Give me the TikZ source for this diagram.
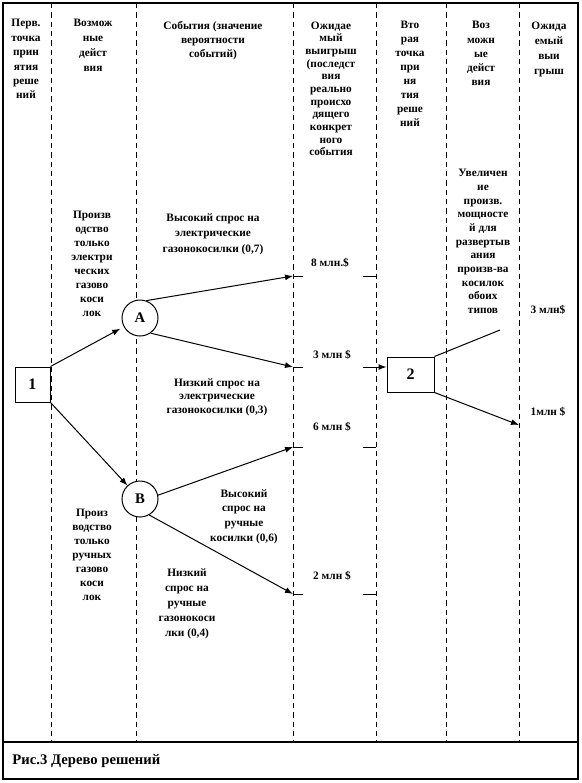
\documentclass[tikz,border=0pt]{standalone}
\usepackage{fontspec}
\setmainfont{Liberation Serif}
\usetikzlibrary{arrows.meta}

\tikzset{every picture/.style={line width=0.75pt}}
\tikzset{
  lbl/.style={font=\fontsize{8.5}{#1}\selectfont\bfseries, align=center, inner sep=0.75pt, anchor=north},
  lbl/.default=10.5,
  payoff/.style={font=\fontsize{8.5}{10.5}\selectfont\bfseries, inner sep=0.75pt},
  colsep/.style={dash pattern=on 4pt off 3pt, line width=0.6pt},
  choice/.style={draw, fill=white, minimum width=35.25pt, minimum height=26.25pt, inner sep=0pt, font=\fontsize{12}{14}\selectfont\bfseries},
  chance/.style={draw, fill=white, circle, minimum size=27pt, inner sep=0pt, font=\fontsize{11}{13}\selectfont\bfseries},
  arr/.style={-{Latex[length=6pt,width=4.5pt]}},
}

\begin{document}
\begin{tikzpicture}[x=0.75pt,y=0.75pt,yscale=-1,xscale=1]
\useasboundingbox (0,0) rectangle (582,783);

%Shape: Rectangle
\draw [line width=1pt] (3,3) rectangle (578,742) ;
%Shape: Rectangle
\draw [line width=1pt] (3,742) rectangle (578,779) ;

%Straight Lines
\draw [colsep] (51,3) -- (51,742) ;
\draw [colsep] (136,3) -- (136,742) ;
\draw [colsep] (293,3) -- (293,742) ;
\draw [colsep] (376,3) -- (376,742) ;
\draw [colsep] (446,3) -- (446,742) ;
\draw [colsep] (519,3) -- (519,742) ;

% Text Node
\node [lbl=10.8] (hd1) at (26,18) {Перв.\\точка\\прин\\ятия\\реше\\ний};
% Text Node
\node [lbl=11.25] (hd2) at (93,18) {Возмож\\ные\\дейст\\вия};
% Text Node
\node [lbl] (hd3) at (213,20) {События (значение\\вероятности\\событий)};
% Text Node
\node [lbl=9.5] (hd4) at (331,20) {Ожидае\\мый\\выигрыш\\(последст\\вия\\реально\\происхо\\дящего\\конкрет\\ного\\события};
% Text Node
\node [lbl] (hd5) at (410,20) {Вто\\рая\\точка\\при\\ня\\тия\\реше\\ний};
% Text Node
\node [lbl=10.65] (hd6) at (481,20) {Воз\\можн\\ые\\дейст\\вия};
% Text Node
\node [lbl=11.25] (hd7) at (549,20) {Ожида\\емый\\выи\\грыш};

%Shape: Square
\node [choice, minimum width=26.25pt] (d1) at (32.5,384.5) {1};
%Shape: Circle
\node [chance] (a) at (140,318) {А};
%Shape: Circle
\node [chance] (b) at (140,499) {В};
%Shape: Square
\node [choice] (d2) at (410.5,374.5) {2};

\coordinate (o8) at (293,276);
\coordinate (o8r) at (363,276);
\coordinate (o3) at (293,367);
\coordinate (o3r) at (363,367);
\coordinate (o6) at (293,447);
\coordinate (o6r) at (363,447);
\coordinate (o2) at (293,594);
\coordinate (o2r) at (363,594);
\coordinate (u3) at (500,330);
\coordinate (u1) at (519,425);

%Straight Lines
\draw [arr, shorten >=3pt] (d1.north east) -- (a) ;
\draw [arr] (d1.south east) -- (b) ;
\draw [arr] (a.70) -- (o8) ;
\draw [arr] (a.-55) -- (o3) ;
\draw [arr] (b.12) -- (o6) ;
\draw [arr] (b.-60) -- (o2) ;
\draw [arr] (o3r) -- (d2.west |- o3r) ;
\draw (d2.north east) -- (u3) ;
\draw [arr] (d2.south east) -- (u1) ;
% ticks
\draw (o8) -- ++(10,0) ;
\draw (o8r) -- ++(13,0) ;
\draw (o3) -- ++(10,0) ;
\draw (o6) -- ++(10,0) ;
\draw (o6r) -- ++(13,0) ;
\draw (o2) -- ++(10,0) ;
\draw (o2r) -- ++(13,0) ;

% Text Node
\node [lbl=10.5] (pa) at (92,210) {Произв\\одство\\только\\электри\\ческих\\газово\\коси\\лок};
% Text Node
\node [lbl=11.6] (ehi) at (213,212) {Высокий спрос на\\электрические\\газонокосилки (0,7)};
% Text Node
\node [lbl=10.1] (elo) at (217,377) {Низкий спрос на\\электрические\\газонокосилки (0,3)};
% Text Node
\node [lbl=10.5] (pb) at (92,508) {Произ\\водство\\только\\ручных\\газово\\коси\\лок};
% Text Node
\node [lbl=11] (hhi) at (244,488) {Высокий\\спрос на\\ручные\\косилки (0,6)};
% Text Node
\node [lbl=11.25] (hlo) at (187,567) {Низкий\\спрос на\\ручные\\газонокоси\\лки (0,4)};
% Text Node
\node [lbl=10.25] (ext) at (483,168) {Увеличен\\ие\\произв.\\мощносте\\й для\\развертыв\\ания\\произв-ва\\косилок\\обоих\\типов};

% Text Node
\node [payoff] (v8) at (330,263) {8 млн.\$};
% Text Node
\node [payoff] (v3) at (332,355) {3 млн \$};
% Text Node
\node [payoff] (v6) at (332,427) {6 млн \$};
% Text Node
\node [payoff] (v2) at (332,576) {2 млн \$};
% Text Node
\node [payoff] (w3) at (548,310) {3 млн\$};
% Text Node
\node [payoff] (w1) at (548,412) {1млн \$};

% Text Node
\node [payoff, font=\fontsize{11}{13}\selectfont\bfseries, anchor=west] (cap) at (11,761) {Рис.3 Дерево решений};

\end{tikzpicture}
\end{document}
